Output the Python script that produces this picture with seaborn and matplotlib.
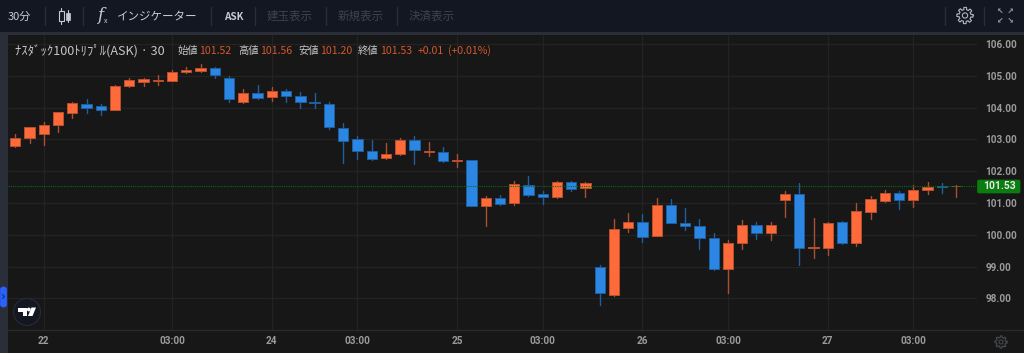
import numpy as np
import pandas as pd
import seaborn as sns
import matplotlib.pyplot as plt
from matplotlib.patches import Rectangle, Circle, FancyBboxPatch, Polygon

# Candle values
opens = [102.79, 103.03, 103.16, 103.45, 103.82, 104.10, 104.05, 103.92, 104.69, 104.82,
         104.85, 104.85, 105.11, 105.16, 105.24, 104.94, 104.19, 104.47, 104.32, 104.52,
         104.37, 104.19, 104.12, 103.35, 103.00, 102.64, 102.40, 102.53, 102.97, 102.61,
         102.60, 102.32, 102.34, 100.91, 101.17, 100.99, 101.58, 101.29, 101.19, 101.66,
         101.46, 98.99, 98.12, 100.20, 100.40, 99.96, 100.93, 100.37, 100.28, 99.90,
         98.91, 99.73, 100.30, 100.05, 101.09, 101.29, 99.60, 99.60, 100.40, 99.75,
         100.73, 101.06, 101.33, 101.09, 101.41, 101.53, 101.52]
closes = [103.05, 103.39, 103.44, 103.86, 104.13, 104.00, 103.92, 104.68, 104.87, 104.89,
          104.87, 105.12, 105.18, 105.24, 105.04, 104.27, 104.45, 104.31, 104.52, 104.35,
          104.17, 104.13, 103.38, 102.96, 102.65, 102.37, 102.53, 102.97, 102.67, 102.64,
          102.32, 102.34, 100.91, 101.15, 100.96, 101.59, 101.26, 101.20, 101.66, 101.43,
          101.64, 98.16, 100.19, 100.40, 99.94, 100.93, 100.36, 100.29, 99.89, 98.93,
          99.74, 100.30, 100.05, 100.30, 101.27, 99.60, 99.62, 100.37, 99.75, 100.75,
          101.12, 101.33, 101.09, 101.40, 101.51, 101.51, 101.53]
highs = [103.17, 103.39, 103.56, 103.86, 104.19, 104.26, 104.11, 104.71, 104.94, 104.94,
         105.03, 105.18, 105.27, 105.37, 105.27, 105.00, 104.59, 104.71, 104.66, 104.59,
         104.48, 104.45, 104.17, 103.50, 103.11, 102.98, 102.88, 103.03, 103.11, 102.91,
         102.77, 102.53, 102.34, 101.22, 101.25, 101.69, 101.85, 101.37, 101.69, 101.69,
         101.66, 99.05, 100.49, 100.68, 100.64, 101.15, 101.12, 100.85, 100.51, 100.05,
         99.84, 100.47, 100.40, 100.40, 101.37, 101.62, 100.52, 100.41, 100.43, 100.99,
         101.22, 101.41, 101.38, 101.57, 101.66, 101.64, 101.56]
lows = [102.77, 102.90, 102.82, 103.24, 103.68, 103.84, 103.77, 103.92, 104.66, 104.68,
        104.71, 104.85, 105.08, 105.13, 104.92, 104.19, 104.16, 104.26, 104.22, 104.19,
        103.98, 104.00, 103.34, 102.27, 102.39, 102.35, 102.38, 102.51, 102.22, 102.49,
        102.30, 102.14, 100.91, 100.28, 100.93, 100.95, 101.23, 100.98, 101.17, 101.39,
        101.20, 97.78, 98.09, 100.10, 99.77, 99.96, 100.36, 100.14, 99.56, 98.88,
        98.18, 99.56, 99.88, 99.85, 100.57, 99.04, 99.28, 99.35, 99.72, 99.65,
        100.51, 101.04, 100.80, 100.88, 101.27, 101.33, 101.20]

time_ticks = [2, 11, 18, 24, 31, 37, 44, 50, 57, 63]
time_labels = ['22', '03:00', '24', '03:00', '25', '03:00', '26', '03:00', '27', '03:00']
price_ticks = [98, 99, 100, 101, 102, 103, 104, 105, 106]
last_price = 101.53

BG = '#171717'
BAR = '#131722'
STRIP = '#2a2e39'
UP, UP_EDGE, UP_WICK = '#ff6a3a', '#b9502d', '#a9502f'
DOWN, DOWN_EDGE, DOWN_WICK = '#2b87e3', '#1f5f9e', '#1f5f9e'

sns.set_theme(style='dark')
plt.rcParams['font.family'] = ['Noto Sans CJK JP', 'DejaVu Sans']

df = pd.DataFrame({'open': opens, 'close': closes, 'high': highs, 'low': lows})
df['i'] = df.index
df['dir'] = np.where(df['close'] >= df['open'], 'up', 'down')
df['top'] = df[['open', 'close']].max(axis=1)
df['bottom'] = df[['open', 'close']].min(axis=1)

fig = plt.figure(figsize=(10.24, 3.53), dpi=100, facecolor=BG)
ax = fig.add_axes([8 / 1024, 23 / 353, 969 / 1024, 295 / 353], facecolor=BG)

# wicks, one line per candle
wicks = df.melt(id_vars=['i', 'dir'], value_vars=['high', 'low'], value_name='price')
sns.lineplot(data=wicks, x='i', y='price', units='i', hue='dir', estimator=None,
             palette={'up': UP_WICK, 'down': DOWN_WICK}, linewidth=1.0, legend=False,
             sort=False, ax=ax, zorder=3)

# bodies
for d, face, edge in [('up', UP, UP_EDGE), ('down', DOWN, DOWN_EDGE)]:
    part = df[df['dir'] == d]
    ax.bar(part['i'], part['top'] - part['bottom'], bottom=part['bottom'], width=0.72,
           color=face, edgecolor=edge, linewidth=0.7, zorder=4)

ax.axhline(last_price, color='#0b6b12', linewidth=0.8, linestyle=(0, (1, 1)), zorder=5)

ax.set_xlim(-0.512, 67.47)
ax.set_ylim(97.006, 106.283)
ax.set_xticks(time_ticks, time_labels)
ax.set_yticks(price_ticks, [f'{p:.2f}' for p in price_ticks])
ax.yaxis.tick_right()
ax.grid(True, color='#232323', linewidth=0.9, zorder=0)
ax.set_axisbelow(True)
ax.set_xlabel('')
ax.set_ylabel('')
for s in ax.spines.values():
    s.set_visible(False)
ax.tick_params(axis='both', length=0, colors='#9b9b9b')
ax.tick_params(axis='x', pad=4.5)
ax.tick_params(axis='y', pad=6)
for t in ax.get_xticklabels() + ax.get_yticklabels():
    t.set_fontfamily('Roboto')
    t.set_fontsize(7.2)
    t.set_fontweight('bold')

# app frame drawn in pixel coordinates
ov = fig.add_axes([0, 0, 1, 1], facecolor='none')
ov.set_xlim(0, 1024)
ov.set_ylim(353, 0)
ov.axis('off')
ov.add_patch(Rectangle((0, 0), 1024, 32, color=BAR, lw=0))
ov.add_patch(Rectangle((0, 32), 1024, 3, color=STRIP, lw=0))
ov.add_patch(Rectangle((0, 32), 8, 321, color=STRIP, lw=0))
ov.plot([8, 1024], [330, 330], color='#2a2a2a', lw=1)
for x in [44.7, 83.3, 210.7, 255, 326, 397, 945, 984]:
    ov.plot([x, x], [7, 25], color='#2a2e39', lw=1)


def label(x, y, s, color='#c8cbd2', size=7.6, ha='left', **kw):
    ov.text(x, y, s, color=color, fontsize=size, ha=ha, va='center', **kw)


label(8, 16.5, '30分', size=8)
label(117, 16.5, 'インジケーター', size=8.3)
label(224, 16.5, 'ASK', size=7.2, fontweight='bold')
for x, s in [(267, '建玉表示'), (338, '新規表示'), (409, '決済表示')]:
    label(x, 16.5, s, color='#3e434f', size=8.3)

# candle icon
ov.plot([61, 61], [8, 24], color='#c8cbd2', lw=0.8)
ov.add_patch(Rectangle((58.5, 11), 5, 10, fc=BAR, ec='#c8cbd2', lw=0.8, zorder=3))
ov.plot([68, 68], [10, 22], color='#c8cbd2', lw=0.8)
ov.add_patch(Rectangle((66, 12.5), 4, 7, fc='#c8cbd2', ec='#c8cbd2', lw=0.5, zorder=3))
# fx icon
label(97.5, 15.5, 'f', size=12, family='DejaVu Serif', style='italic')
label(104, 21, 'x', size=5)

# legend line
label(15, 50.5, 'ﾅｽﾀﾞｯｸ100ﾄﾘﾌﾟﾙ(ASK) · 30', size=9.1, color='#c6c6c6')
val = '#d5572f'
for x, name, v in [(177, '始値', '101.52'), (238, '高値', '101.56'),
                   (298, '安値', '101.20'), (358, '終値', '101.53')]:
    label(x, 50.5, name, size=7.4, color='#c6c6c6')
    label(x + 22, 50.5, v, size=7.6, color=val)
label(418, 50.5, '+0.01', size=7.6, color=val)
label(448, 50.5, '(+0.01%)', size=7.6, color=val)

# last price tag
ov.add_patch(FancyBboxPatch((977.5, 180), 42.5, 13, boxstyle='round,pad=0,rounding_size=1.5',
                            fc='#0b7d10', ec='#0b7d10', lw=0.5))
label(999, 186.3, '101.53', color='#e6e6e6', size=7.4, ha='center', fontweight='bold',
      family='Roboto')


def gear(cx, cy, r, color, lw):
    a = np.linspace(0, 2 * np.pi, 97)
    rad = r * (0.88 + 0.14 * np.sign(np.cos(8 * a)))
    ov.plot(cx + rad * np.cos(a), cy + rad * np.sin(a), color=color, lw=lw)
    ov.add_patch(Circle((cx, cy), r * 0.33, fc='none', ec=color, lw=lw))


gear(965, 15.5, 8, '#b0b3ba', 0.8)
gear(1001, 342, 6, '#4a4d55', 0.7)

# fullscreen icon
for sx, sy in [(-1, -1), (1, -1), (-1, 1), (1, 1)]:
    cx, cy = 1005.5 + sx * 5.5, 15.5 + sy * 5
    ov.add_patch(Polygon([(cx + sx * 2, cy + sy * 2), (cx - sx * 1, cy + sy * 2), (cx + sx * 2, cy - sy * 1)],
                         fc='#8d9098', lw=0))
    ov.plot([cx - sx * 2, cx + sx * 1], [cy - sy * 2, cy + sy * 1], color='#8d9098', lw=0.8)

# side tab
ov.add_patch(FancyBboxPatch((0.5, 287), 6, 20, boxstyle='round,pad=0,rounding_size=2.5',
                            fc='#2962ff', ec='#2962ff', lw=0.5))
ov.plot([2.5, 4.5, 2.5], [294.5, 296.5, 298.5], color='#12307a', lw=0.8)

# TV logo
ov.add_patch(Circle((27, 312), 13.5, fc=BAR, ec='#2a2e39', lw=0.7))
ov.add_patch(Polygon([(18, 307.5), (27, 307.5), (27, 316), (23, 316), (23, 311.5), (18, 311.5)], fc='white', lw=0))
ov.add_patch(Circle((28.8, 309.5), 1.9, fc='white', lw=0))
ov.add_patch(Polygon([(31.5, 307.5), (36, 307.5), (32.5, 316), (28, 316)], fc='white', lw=0))

plt.savefig('out.png', dpi=100, facecolor=BG)
